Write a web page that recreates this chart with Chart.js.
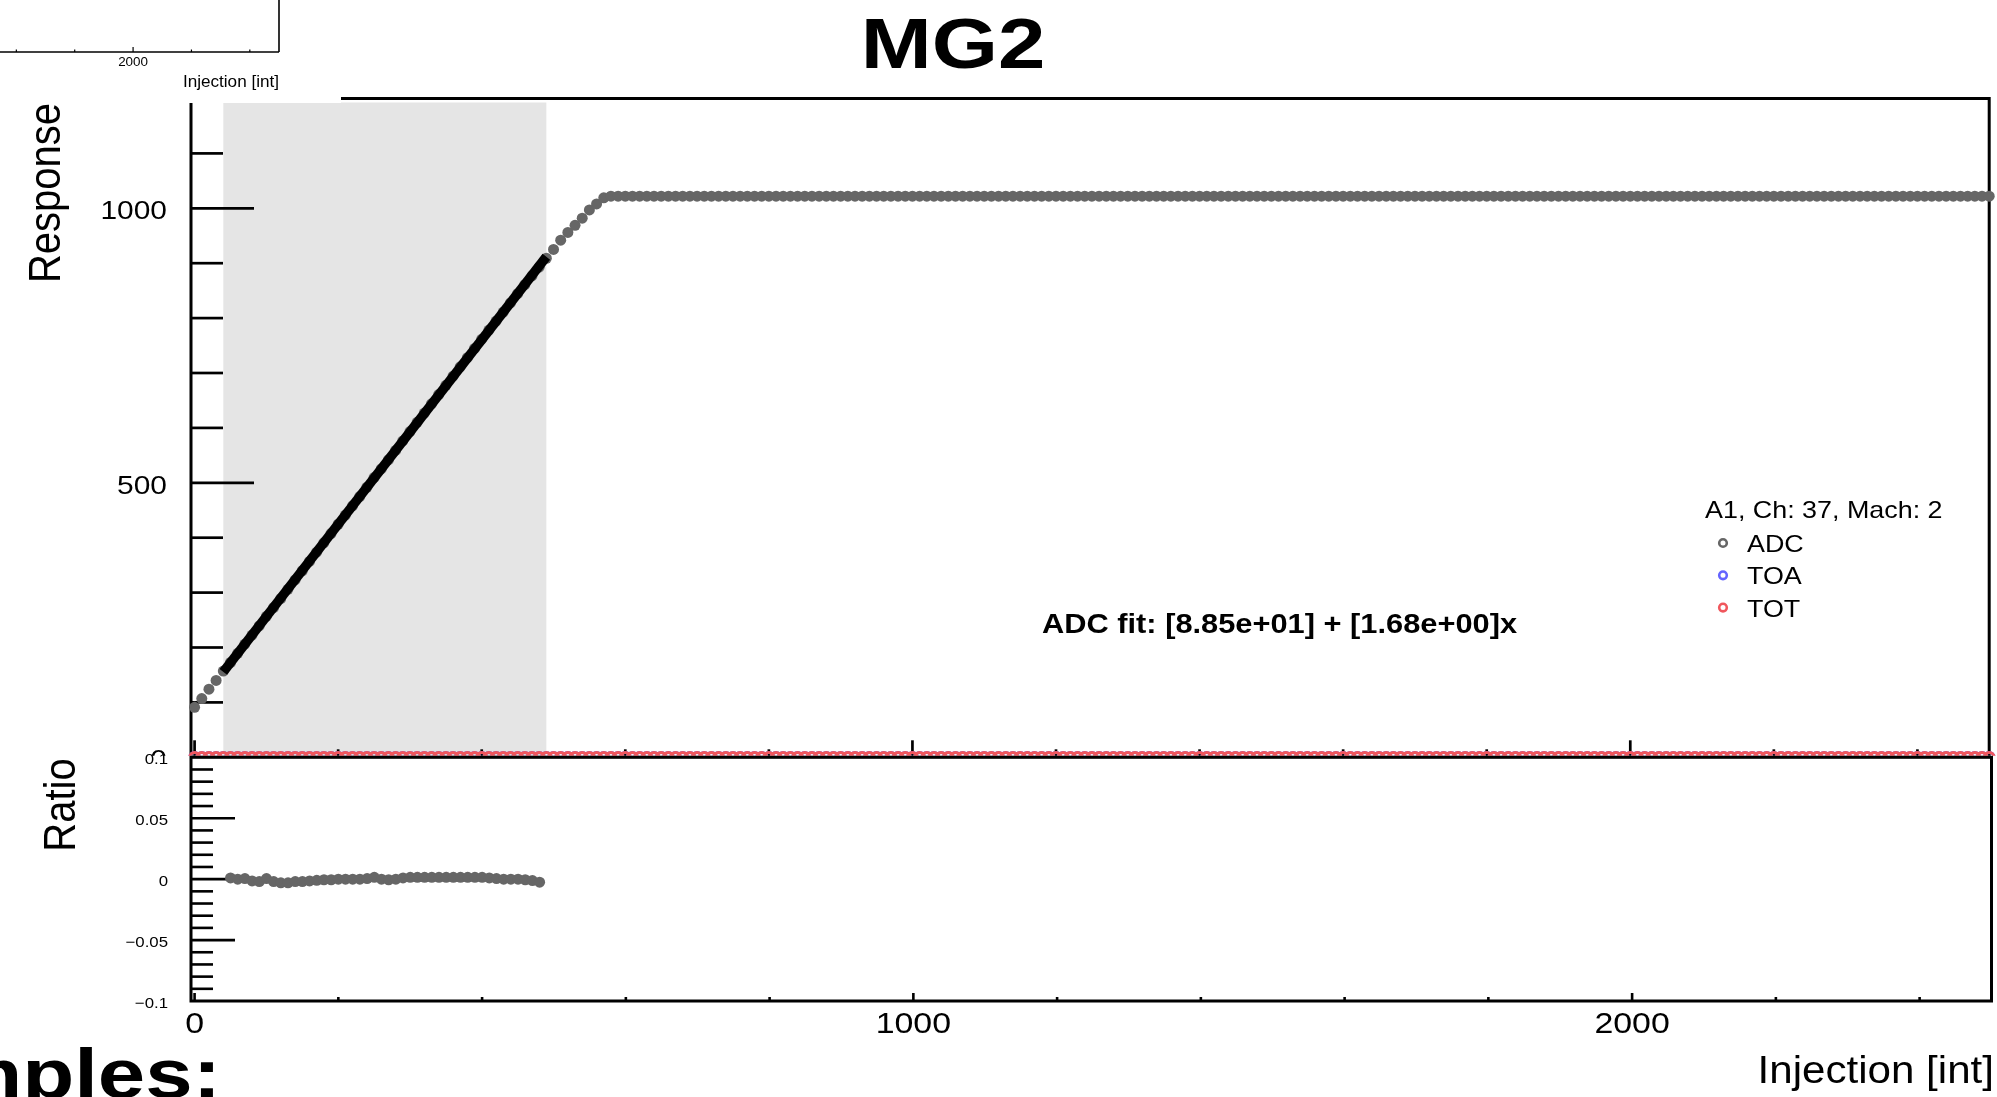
<!DOCTYPE html>
<html>
<head>
<meta charset="utf-8">
<title>MG2</title>
<script src="https://cdn.jsdelivr.net/npm/chart.js@4.4.0/dist/chart.umd.min.js"></script>
<style>
  html, body { margin: 0; padding: 0; background: #fff; }
  body { width: 1997px; height: 1097px; position: relative; overflow: hidden; }
  canvas { position: absolute; left: 0; }
  #upper { top: 0; width: 1997px; height: 1097px; }
  #lower { top: 700px; width: 1997px; height: 397px; }
  #inset { top: 0; width: 341px; height: 103px; }
</style>
</head>
<body>
<canvas id="upper" width="1997" height="1097"></canvas>
<canvas id="lower" width="1997" height="397"></canvas>
<canvas id="inset" width="341" height="103"></canvas>
<script>
// injection scan points
const injection = [
  0, 10, 20, 30, 40, 50, 60, 70, 80, 90, 100, 110, 120, 130, 140, 150, 160, 170, 180, 190,
  200, 210, 220, 230, 240, 250, 260, 270, 280, 290, 300, 310, 320, 330, 340, 350, 360, 370, 380, 390,
  400, 410, 420, 430, 440, 450, 460, 470, 480, 490, 500, 510, 520, 530, 540, 550, 560, 570, 580, 590,
  600, 610, 620, 630, 640, 650, 660, 670, 680, 690, 700, 710, 720, 730, 740, 750, 760, 770, 780, 790,
  800, 810, 820, 830, 840, 850, 860, 870, 880, 890, 900, 910, 920, 930, 940, 950, 960, 970, 980, 990,
  1000, 1010, 1020, 1030, 1040, 1050, 1060, 1070, 1080, 1090, 1100, 1110, 1120, 1130, 1140, 1150, 1160, 1170, 1180, 1190,
  1200, 1210, 1220, 1230, 1240, 1250, 1260, 1270, 1280, 1290, 1300, 1310, 1320, 1330, 1340, 1350, 1360, 1370, 1380, 1390,
  1400, 1410, 1420, 1430, 1440, 1450, 1460, 1470, 1480, 1490, 1500, 1510, 1520, 1530, 1540, 1550, 1560, 1570, 1580, 1590,
  1600, 1610, 1620, 1630, 1640, 1650, 1660, 1670, 1680, 1690, 1700, 1710, 1720, 1730, 1740, 1750, 1760, 1770, 1780, 1790,
  1800, 1810, 1820, 1830, 1840, 1850, 1860, 1870, 1880, 1890, 1900, 1910, 1920, 1930, 1940, 1950, 1960, 1970, 1980, 1990,
  2000, 2010, 2020, 2030, 2040, 2050, 2060, 2070, 2080, 2090, 2100, 2110, 2120, 2130, 2140, 2150, 2160, 2170, 2180, 2190,
  2200, 2210, 2220, 2230, 2240, 2250, 2260, 2270, 2280, 2290, 2300, 2310, 2320, 2330, 2340, 2350, 2360, 2370, 2380, 2390,
  2400, 2410, 2420, 2430, 2440, 2450, 2460, 2470, 2480, 2490, 2500
];

const adcValues = [
  91, 107, 124, 140, 157, 172.7, 189.3, 206.2, 222.6, 239.2, 256.8, 272.8, 289.2, 306.0, 323.1, 339.8, 356.8, 373.7, 390.7, 407.5,
  424.5, 441.3, 458.1, 474.9, 491.9, 509.5, 525.3, 541.8, 558.9, 576.3, 593.4, 610.2, 627.0, 643.9, 660.7, 677.5, 694.3, 711.2, 728.0, 744.8,
  761.6, 778.1, 794.5, 810.9, 827.7, 844.5, 860.9, 877.0, 892.7, 909, 925, 942, 956, 969, 982, 997, 1008, 1019, 1022, 1022,
  1022, 1022, 1022, 1022, 1022, 1022, 1022, 1022, 1022, 1022, 1022, 1022, 1022, 1022, 1022, 1022, 1022, 1022, 1022, 1022,
  1022, 1022, 1022, 1022, 1022, 1022, 1022, 1022, 1022, 1022, 1022, 1022, 1022, 1022, 1022, 1022, 1022, 1022, 1022, 1022,
  1022, 1022, 1022, 1022, 1022, 1022, 1022, 1022, 1022, 1022, 1022, 1022, 1022, 1022, 1022, 1022, 1022, 1022, 1022, 1022,
  1022, 1022, 1022, 1022, 1022, 1022, 1022, 1022, 1022, 1022, 1022, 1022, 1022, 1022, 1022, 1022, 1022, 1022, 1022, 1022,
  1022, 1022, 1022, 1022, 1022, 1022, 1022, 1022, 1022, 1022, 1022, 1022, 1022, 1022, 1022, 1022, 1022, 1022, 1022, 1022,
  1022, 1022, 1022, 1022, 1022, 1022, 1022, 1022, 1022, 1022, 1022, 1022, 1022, 1022, 1022, 1022, 1022, 1022, 1022, 1022,
  1022, 1022, 1022, 1022, 1022, 1022, 1022, 1022, 1022, 1022, 1022, 1022, 1022, 1022, 1022, 1022, 1022, 1022, 1022, 1022,
  1022, 1022, 1022, 1022, 1022, 1022, 1022, 1022, 1022, 1022, 1022, 1022, 1022, 1022, 1022, 1022, 1022, 1022, 1022, 1022,
  1022, 1022, 1022, 1022, 1022, 1022, 1022, 1022, 1022, 1022, 1022, 1022, 1022, 1022, 1022, 1022, 1022, 1022, 1022, 1022,
  1022, 1022, 1022, 1022, 1022, 1022, 1022, 1022, 1022, 1022, 1022
];

const toaValues = [
  0, 0, 0, 0, 0, 0, 0, 0, 0, 0, 0, 0, 0, 0, 0, 0, 0, 0, 0, 0,
  0, 0, 0, 0, 0, 0, 0, 0, 0, 0, 0, 0, 0, 0, 0, 0, 0, 0, 0, 0,
  0, 0, 0, 0, 0, 0, 0, 0, 0, 0, 0, 0, 0, 0, 0, 0, 0, 0, 0, 0,
  0, 0, 0, 0, 0, 0, 0, 0, 0, 0, 0, 0, 0, 0, 0, 0, 0, 0, 0, 0,
  0, 0, 0, 0, 0, 0, 0, 0, 0, 0, 0, 0, 0, 0, 0, 0, 0, 0, 0, 0,
  0, 0, 0, 0, 0, 0, 0, 0, 0, 0, 0, 0, 0, 0, 0, 0, 0, 0, 0, 0,
  0, 0, 0, 0, 0, 0, 0, 0, 0, 0, 0, 0, 0, 0, 0, 0, 0, 0, 0, 0,
  0, 0, 0, 0, 0, 0, 0, 0, 0, 0, 0, 0, 0, 0, 0, 0, 0, 0, 0, 0,
  0, 0, 0, 0, 0, 0, 0, 0, 0, 0, 0, 0, 0, 0, 0, 0, 0, 0, 0, 0,
  0, 0, 0, 0, 0, 0, 0, 0, 0, 0, 0, 0, 0, 0, 0, 0, 0, 0, 0, 0,
  0, 0, 0, 0, 0, 0, 0, 0, 0, 0, 0, 0, 0, 0, 0, 0, 0, 0, 0, 0,
  0, 0, 0, 0, 0, 0, 0, 0, 0, 0, 0, 0, 0, 0, 0, 0, 0, 0, 0, 0,
  0, 0, 0, 0, 0, 0, 0, 0, 0, 0, 0
];

const totValues = [
  0, 0, 0, 0, 0, 0, 0, 0, 0, 0, 0, 0, 0, 0, 0, 0, 0, 0, 0, 0,
  0, 0, 0, 0, 0, 0, 0, 0, 0, 0, 0, 0, 0, 0, 0, 0, 0, 0, 0, 0,
  0, 0, 0, 0, 0, 0, 0, 0, 0, 0, 0, 0, 0, 0, 0, 0, 0, 0, 0, 0,
  0, 0, 0, 0, 0, 0, 0, 0, 0, 0, 0, 0, 0, 0, 0, 0, 0, 0, 0, 0,
  0, 0, 0, 0, 0, 0, 0, 0, 0, 0, 0, 0, 0, 0, 0, 0, 0, 0, 0, 0,
  0, 0, 0, 0, 0, 0, 0, 0, 0, 0, 0, 0, 0, 0, 0, 0, 0, 0, 0, 0,
  0, 0, 0, 0, 0, 0, 0, 0, 0, 0, 0, 0, 0, 0, 0, 0, 0, 0, 0, 0,
  0, 0, 0, 0, 0, 0, 0, 0, 0, 0, 0, 0, 0, 0, 0, 0, 0, 0, 0, 0,
  0, 0, 0, 0, 0, 0, 0, 0, 0, 0, 0, 0, 0, 0, 0, 0, 0, 0, 0, 0,
  0, 0, 0, 0, 0, 0, 0, 0, 0, 0, 0, 0, 0, 0, 0, 0, 0, 0, 0, 0,
  0, 0, 0, 0, 0, 0, 0, 0, 0, 0, 0, 0, 0, 0, 0, 0, 0, 0, 0, 0,
  0, 0, 0, 0, 0, 0, 0, 0, 0, 0, 0, 0, 0, 0, 0, 0, 0, 0, 0, 0,
  0, 0, 0, 0, 0, 0, 0, 0, 0, 0, 0
];

// residuals inside the fit range
const ratioInjection = [
  50, 60, 70, 80, 90, 100, 110, 120, 130, 140,
  150, 160, 170, 180, 190, 200, 210, 220, 230, 240,
  250, 260, 270, 280, 290, 300, 310, 320, 330, 340,
  350, 360, 370, 380, 390, 400, 410, 420, 430, 440,
  450, 460, 470, 480
];
const ratioValues = [
  0.001, 0.0, 0.0005, -0.0015, -0.002, 0.0005, -0.002, -0.003, -0.003, -0.002,
  -0.002, -0.0015, -0.001, -0.0005, -0.0005, 0.0, 0.0, 0.0, 0.0, 0.0005,
  0.0015, 0.0, -0.0005, 0.0, 0.001, 0.0015, 0.0015, 0.0015, 0.0015, 0.0015,
  0.0015, 0.0015, 0.0015, 0.0015, 0.0015, 0.0015, 0.001, 0.0005, 0.0, 0.0,
  0.0, -0.0005, -0.0012, -0.0025
];

// linear fit drawn over the fit range
const fitRange = [40, 490];
const fitValues = [155.7, 911.7];
const fitLabel = 'ADC fit: [8.85e+01] + [1.68e+00]x';

const responseTicks = [0, 500, 1000];
const ratioTicks = [-0.1, -0.05, 0, 0.05, 0.1];
const ratioTickLabels = ['\u22120.1', '\u22120.05', '0', '0.05', '0.1'];
const injectionTicks = [0, 1000, 2000];
const insetTicks = [2000];

const legendTitle = 'A1, Ch: 37, Mach: 2';
const seriesNames = ['ADC', 'TOA', 'TOT'];
const seriesColors = ['#666666', '#6464ff', '#f0575d'];

const FONT = '"Liberation Sans", Arial, Helvetica, sans-serif';

function pts(xs, ys) {
  return xs.map((x, i) => ({ x: x, y: ys[i] }));
}

function txt(ctx, s, x, y, o) {
  ctx.save();
  ctx.font = (o.bold ? 'bold ' : '') + o.size + 'px ' + FONT;
  ctx.fillStyle = '#000';
  ctx.textAlign = o.align || 'left';
  ctx.textBaseline = 'alphabetic';
  ctx.translate(x, y);
  ctx.scale(o.sx || 1, 1);
  if (o.rot) ctx.rotate(o.rot);
  ctx.fillText(s, 0, 0);
  ctx.restore();
}

function seg(ctx, x1, y1, x2, y2) {
  ctx.beginPath();
  ctx.moveTo(x1, y1);
  ctx.lineTo(x2, y2);
  ctx.stroke();
}

Chart.defaults.font.family = FONT;

const upperPad = {
  id: 'upperPad',
  beforeDatasetsDraw(chart) {
    const { ctx, chartArea: a, scales: { x, y } } = chart;
    ctx.save();
    // shaded fit range
    const b1 = x.getPixelForValue(fitRange[0]);
    const b2 = x.getPixelForValue(fitRange[1]);
    ctx.fillStyle = '#e5e5e5';
    ctx.fillRect(b1, a.top + 4, b2 - b1, a.bottom - a.top - 4);

    ctx.strokeStyle = '#000';
    ctx.lineWidth = 3;
    ctx.strokeRect(a.left, a.top, a.right - a.left, a.bottom - a.top);

    ctx.lineWidth = 2.7;
    for (let v = 100; v < y.max; v += 100) {
      const py = y.getPixelForValue(v);
      seg(ctx, a.left, py, a.left + (responseTicks.includes(v) ? 63 : 32), py);
    }
    for (let v = 0; v < x.max; v += 200) {
      const px = x.getPixelForValue(v);
      seg(ctx, px, a.bottom, px, a.bottom - (injectionTicks.includes(v) ? 17 : 8));
    }
    ctx.restore();

    responseTicks.forEach(v => {
      txt(ctx, String(v), a.left - 24, y.getPixelForValue(v) + 11, { size: 26, sx: 1.15, align: 'right' });
    });
  },
  afterDraw(chart) {
    const ctx = chart.ctx;
    // legend
    txt(ctx, legendTitle, 1705, 518, { size: 24, sx: 1.12 });
    seriesNames.forEach((name, i) => {
      const cy = 543 + i * 32.3;
      ctx.save();
      ctx.strokeStyle = seriesColors[i];
      ctx.lineWidth = 2.6;
      ctx.beginPath();
      ctx.arc(1723, cy, 3.8, 0, Math.PI * 2);
      ctx.stroke();
      ctx.restore();
      txt(ctx, name, 1747, cy + 9, { size: 24, sx: 1.12 });
    });
    txt(ctx, fitLabel, 1042, 633, { size: 28, bold: true, sx: 1.1 });
    txt(ctx, 'MG2', 953, 68, { size: 71, bold: true, sx: 1.2, align: 'center' });
    txt(ctx, 'Response', 60, 193, { size: 40, sx: 1.12, align: 'center', rot: -Math.PI / 2 });
  }
};

const lowerPad = {
  id: 'lowerPad',
  beforeDraw(chart) {
    const { ctx, chartArea: a } = chart;
    ctx.save();
    ctx.fillStyle = '#fff';
    ctx.fillRect(0, a.top - 1.5, chart.width, chart.height);
    ctx.restore();
  },
  beforeDatasetsDraw(chart) {
    const { ctx, chartArea: a, scales: { x, y } } = chart;
    ctx.save();
    ctx.strokeStyle = '#000';
    ctx.lineWidth = 3;
    ctx.strokeRect(a.left, a.top, a.right - a.left, a.bottom - a.top);
    ctx.lineWidth = 2.6;
    for (let i = -9; i <= 9; i++) {
      const py = y.getPixelForValue(i / 100);
      seg(ctx, a.left, py, a.left + (i % 5 === 0 ? 44 : 22), py);
    }
    for (let v = 0; v < x.max; v += 200) {
      const px = x.getPixelForValue(v);
      seg(ctx, px, a.bottom, px, a.bottom - (injectionTicks.includes(v) ? 8 : 4));
    }
    ctx.restore();
  },
  afterDraw(chart) {
    const { ctx, chartArea: a, scales: { x, y } } = chart;
    ratioTicks.forEach((v, i) => {
      txt(ctx, ratioTickLabels[i], a.left - 23, y.getPixelForValue(v) + 7, { size: 15, sx: 1.12, align: 'right' });
    });
    injectionTicks.forEach(v => {
      txt(ctx, String(v), x.getPixelForValue(v), a.bottom + 32, { size: 30, sx: 1.13, align: 'center' });
    });
    txt(ctx, 'Injection [int]', 1994, 383, { size: 39, sx: 1.08, align: 'right' });
    txt(ctx, 'Ratio', 75, 105, { size: 40, sx: 1.12, align: 'center', rot: -Math.PI / 2 });
    txt(ctx, 'Examples:', 221, 398, { size: 71, bold: true, sx: 1.2, align: 'right' });
  }
};

const insetPad = {
  id: 'insetPad',
  beforeDraw(chart) {
    const ctx = chart.ctx;
    ctx.save();
    ctx.fillStyle = '#fff';
    ctx.fillRect(0, 0, chart.width, chart.height);
    ctx.restore();
  },
  afterDraw(chart) {
    const { ctx, chartArea: a, scales: { x } } = chart;
    ctx.save();
    ctx.strokeStyle = '#000';
    ctx.lineWidth = 1.6;
    seg(ctx, 0, a.bottom, a.right, a.bottom);
    seg(ctx, a.right, 0, a.right, a.bottom);
    ctx.lineWidth = 1.2;
    for (let v = 1600; v < x.max; v += 200) {
      const px = x.getPixelForValue(v);
      seg(ctx, px, a.bottom, px, a.bottom - (insetTicks.includes(v) ? 5 : 2.5));
    }
    ctx.restore();
    insetTicks.forEach(v => {
      txt(ctx, String(v), x.getPixelForValue(v), a.bottom + 14, { size: 12, sx: 1.12, align: 'center' });
    });
    txt(ctx, 'Injection [int]', a.right, 87, { size: 16, sx: 1.07, align: 'right' });
  }
};

const baseOptions = {
  responsive: false,
  animation: false,
  events: [],
  plugins: { legend: { display: false }, tooltip: { enabled: false } }
};

new Chart(document.getElementById('upper'), {
  type: 'scatter',
  data: {
    datasets: [
      {
        label: 'fit',
        data: pts(fitRange, fitValues),
        showLine: true,
        borderColor: '#000',
        borderWidth: 9.5,
        pointRadius: 0,
        order: 0,
        clip: false
      },
      {
        label: seriesNames[0],
        data: pts(injection, adcValues),
        pointRadius: 5.5,
        pointBackgroundColor: seriesColors[0],
        pointBorderWidth: 0,
        order: 1,
        clip: false
      },
      {
        label: seriesNames[2],
        data: pts(injection, totValues),
        pointRadius: 4.8,
        pointBackgroundColor: 'rgba(0,0,0,0)',
        pointBorderColor: seriesColors[2],
        pointBorderWidth: 3,
        order: 2,
        clip: false
      },
      {
        label: seriesNames[1],
        data: pts(injection, toaValues),
        pointRadius: 4.8,
        pointBackgroundColor: 'rgba(0,0,0,0)',
        pointBorderColor: seriesColors[1],
        pointBorderWidth: 3,
        order: 3,
        clip: false
      }
    ]
  },
  options: Object.assign({}, baseOptions, {
    layout: { padding: { left: 191, top: 98.5, right: 2, bottom: 339.7 } },
    scales: {
      x: { type: 'linear', min: -5, max: 2500, display: false },
      y: { type: 'linear', min: 0, max: 1200, display: false }
    }
  }),
  plugins: [upperPad]
});

new Chart(document.getElementById('lower'), {
  type: 'scatter',
  data: {
    datasets: [{
      label: 'ratio',
      data: pts(ratioInjection, ratioValues),
      pointRadius: 5.5,
      pointBackgroundColor: seriesColors[0],
      pointBorderWidth: 0,
      clip: false
    }]
  },
  options: Object.assign({}, baseOptions, {
    layout: { padding: { left: 191, top: 57.3, right: 2, bottom: 96 } },
    scales: {
      x: { type: 'linear', min: -5, max: 2500, display: false },
      y: { type: 'linear', min: -0.1, max: 0.1, display: false }
    }
  }),
  plugins: [lowerPad]
});

new Chart(document.getElementById('inset'), {
  type: 'scatter',
  data: { datasets: [] },
  options: Object.assign({}, baseOptions, {
    layout: { padding: { left: 0, top: 0, right: 62, bottom: 51 } },
    scales: {
      x: { type: 'linear', min: 1544, max: 2500, display: false },
      y: { type: 'linear', min: 0, max: 1, display: false }
    }
  }),
  plugins: [insetPad]
});
</script>
</body>
</html>
